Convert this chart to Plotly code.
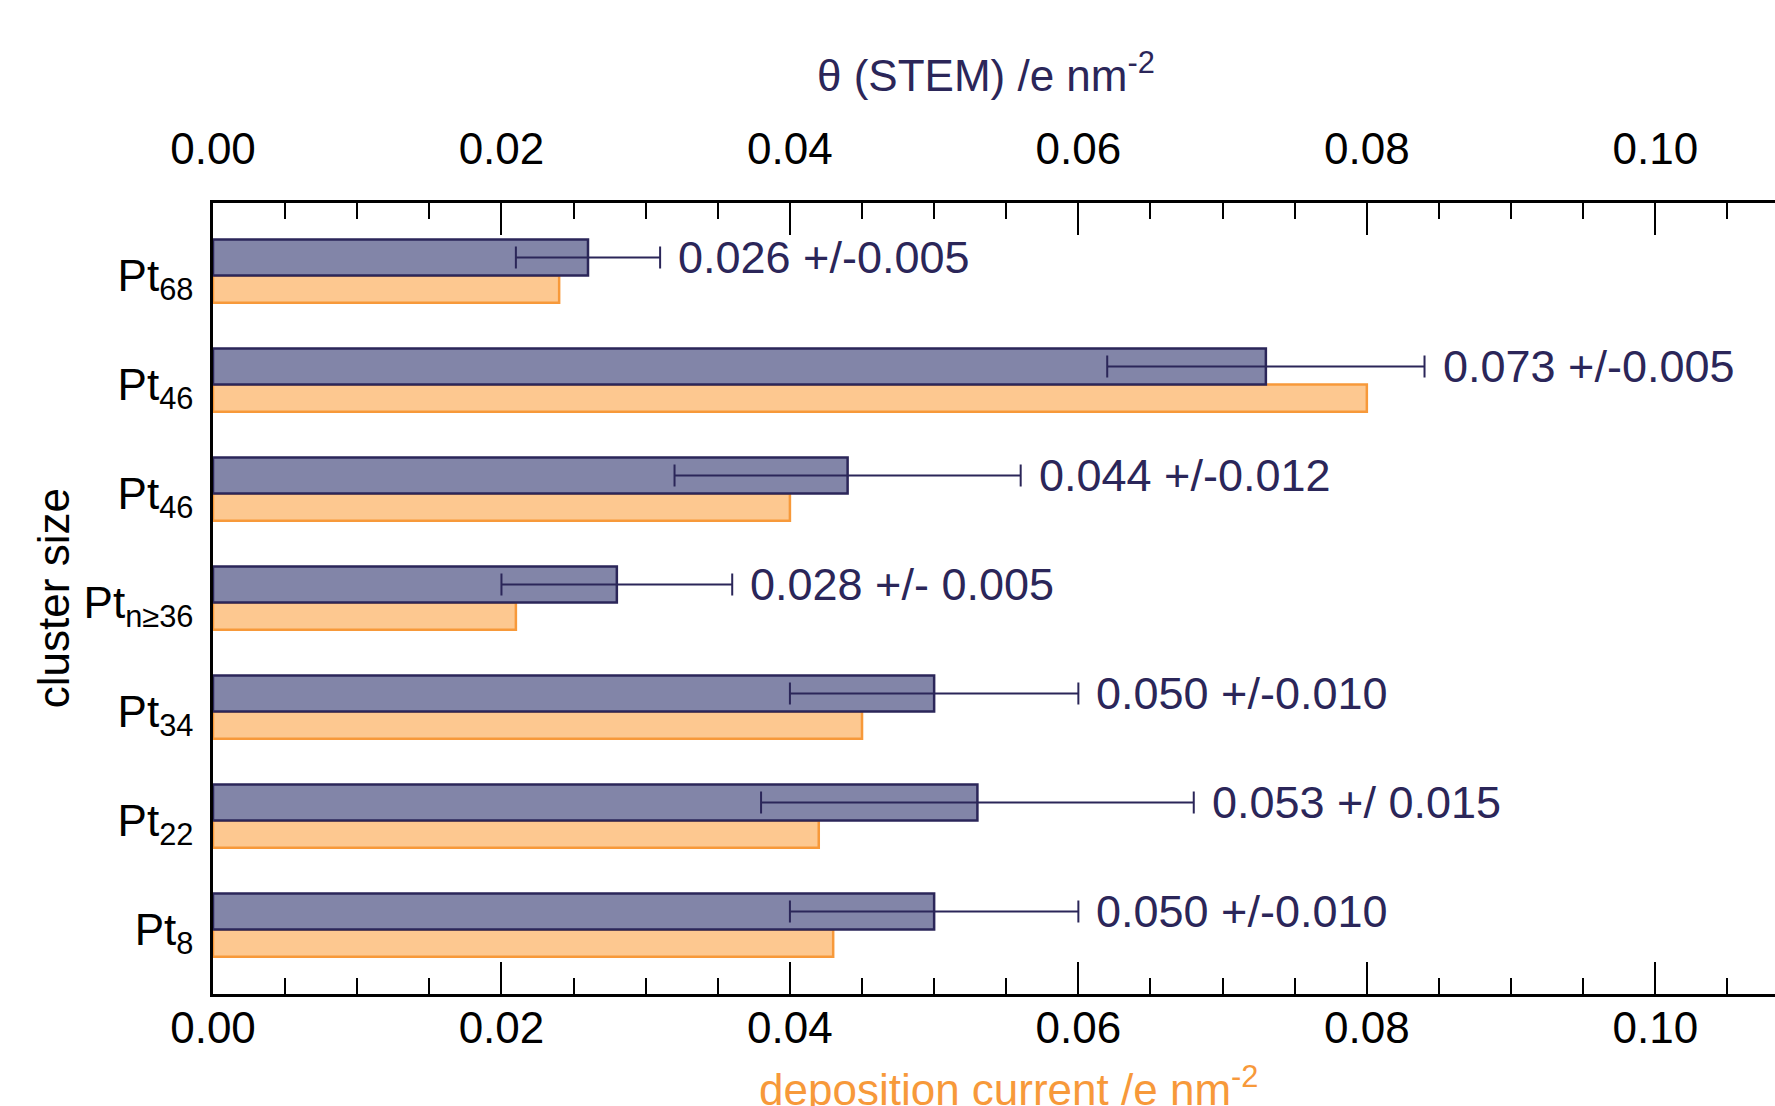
import plotly.graph_objects as go

# ---- data (bottom to top) ----
cluster_labels = ["Pt<sub>8</sub>", "Pt<sub>22</sub>", "Pt<sub>34</sub>", "Pt<sub>n≥36</sub>",
                  "Pt<sub>46</sub>", "Pt<sub>46</sub>", "Pt<sub>68</sub>"]
positions = [0, 1, 2, 3, 4, 5, 6]
theta_stem = [0.050, 0.053, 0.050, 0.028, 0.044, 0.073, 0.026]
theta_err = [0.010, 0.015, 0.010, 0.008, 0.012, 0.011, 0.005]
deposition_current = [0.043, 0.042, 0.045, 0.021, 0.040, 0.080, 0.024]
value_labels = ["0.050 +/-0.010", "0.053 +/ 0.015", "0.050 +/-0.010", "0.028 +/- 0.005",
                "0.044 +/-0.012", "0.073 +/-0.005", "0.026 +/-0.005"]
x_ticks = [0.00, 0.02, 0.04, 0.06, 0.08, 0.10]
x_ticktext = ["0.00", "0.02", "0.04", "0.06", "0.08", "0.10"]

NAVY = "#2B2659"
BLUE_FILL = "#8285A8"
ORANGE_FILL = "#FDC890"
ORANGE_LINE = "#F7993A"
FONT = "Liberation Sans, Arial, Helvetica, sans-serif"
FS = 44

BLUE_W = 0.33
ORANGE_W = 0.25

fig = go.Figure()

fig.add_trace(go.Bar(
    y=positions, x=deposition_current, orientation="h",
    width=ORANGE_W, offset=-ORANGE_W,
    marker=dict(color=ORANGE_FILL, line=dict(color=ORANGE_LINE, width=2.5)),
    xaxis="x", yaxis="y", showlegend=False,
))

fig.add_trace(go.Bar(
    y=positions, x=theta_stem, orientation="h",
    width=BLUE_W, offset=0,
    marker=dict(color=BLUE_FILL, line=dict(color=NAVY, width=2.5)),
    error_x=dict(type="data", array=theta_err, color=NAVY, thickness=2, width=11),
    xaxis="x2", yaxis="y", showlegend=False,
))

for p, v, e, t in zip(positions, theta_stem, theta_err, value_labels):
    fig.add_annotation(
        x=v + e, y=p + BLUE_W / 2, xref="x2", yref="y",
        text=t, showarrow=False, xanchor="left", yanchor="middle",
        xshift=16, font=dict(family=FONT, size=45, color=NAVY),
    )

XRANGE = [0, 0.1083]
common_x = dict(
    range=XRANGE, tickvals=x_ticks, ticktext=x_ticktext,
    ticks="inside", ticklen=32, tickwidth=2, tickcolor="black",
    minor=dict(dtick=0.005, tick0=0, ticks="inside", ticklen=16, tickwidth=2, tickcolor="black"),
    showline=True, linecolor="black", linewidth=2.5,
    showgrid=False, zeroline=False,
    tickfont=dict(family=FONT, size=FS, color="black"),
)

fig.update_layout(
    width=1775, height=1106,
    margin=dict(l=213, r=0, t=203, b=112),
    paper_bgcolor="white", plot_bgcolor="white",
    barmode="overlay",
    xaxis=dict(**common_x, side="bottom", ticklabelstandoff=-7),
    xaxis2=dict(**common_x, side="top", overlaying="x", matches="x", ticklabelstandoff=19),
    yaxis=dict(
        range=[-0.592, 6.664], tickvals=positions, ticktext=cluster_labels,
        showline=True, linecolor="black", linewidth=2.5, ticks="",
        showgrid=False, zeroline=False, ticklabelstandoff=8,
        tickfont=dict(family=FONT, size=FS, color="black"),
    ),
)

# axis titles
fig.add_annotation(
    x=0.495, y=1.165, xref="paper", yref="paper", showarrow=False,
    text="θ (STEM) /e nm<sup>-2</sup>", xanchor="center", yanchor="middle",
    font=dict(family=FONT, size=FS, color=NAVY),
)
fig.add_annotation(
    x=0.509, y=-0.117, xref="paper", yref="paper", showarrow=False,
    text="deposition current /e nm<sup>-2</sup>", xanchor="center", yanchor="middle",
    font=dict(family=FONT, size=FS, color=ORANGE_LINE),
)
fig.add_annotation(
    x=-0.102, y=0.5, xref="paper", yref="paper", showarrow=False,
    text="cluster size", textangle=-90, xanchor="center", yanchor="middle",
    font=dict(family=FONT, size=FS, color="black"),
)

fig.write_html(
    "out.html",
    config={"displayModeBar": False},
    post_script="document.body.style.margin='0';document.body.style.overflow='hidden';",
)
